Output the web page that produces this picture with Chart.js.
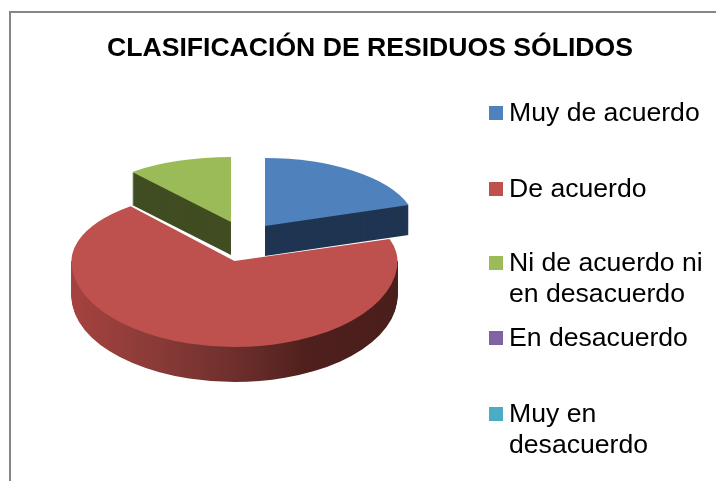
<!DOCTYPE html>
<html lang="es">
<head>
<meta charset="utf-8">
<title>Clasificación de residuos sólidos</title>
<script src="https://cdn.jsdelivr.net/npm/chart.js@4"></script>
<style>
  html, body { margin: 0; padding: 0; background: #fff; overflow: hidden; }
  #stage { position: relative; width: 716px; height: 481px; overflow: hidden; }
  #frame { position: absolute; left: 9px; top: 11px; width: 720px; height: 500px; border: 2px solid #868686; box-sizing: border-box; }
  canvas { position: absolute; left: 0; top: 0; }
  #legend { position: absolute; left: 0; top: 0; margin: 0; padding: 0; list-style: none; font: 26.6px/31px "Liberation Sans", Arial, sans-serif; color: #000; }
  #legend li { position: absolute; left: 489px; width: 220px; white-space: pre; padding-left: 20px; box-sizing: border-box; }
  #legend i { position: absolute; left: 0; top: 9px; width: 14px; height: 14px; }
</style>
</head>
<body>
<div id="stage">
  <div id="frame"></div>
  <canvas id="chart" width="716" height="481"></canvas>
  <ul id="legend"></ul>
</div>
<script>
const chartTitle = 'CLASIFICACIÓN DE RESIDUOS SÓLIDOS';
const categories = ['Muy de acuerdo', 'De acuerdo', 'Ni de acuerdo ni\nen desacuerdo', 'En desacuerdo', 'Muy en\ndesacuerdo'];
const shares = [20, 69, 11, 0, 0];
const topColors = ['#4F81BD', '#BE504D', '#9BBB59', '#8064A2', '#4BACC6'];
const legendTops = [97, 173, 247, 322, 398];

// Look of the tilted, exploded slices (screen centre and radii for each slice).
const sliceLook = {
  0: { cx: 265, cy: 226, rx: 151, ry: 68, depth: 30, wall: '#1F3552' },
  2: { cx: 231, cy: 222, rx: 155, ry: 65, depth: 33, wall: '#414D22' }
};
const redLook = { cx: 234.5, cy: 261, rx: 163, ryBack: 71, ryFront: 86, depth: 35 };

const tiltPlugin = {
  id: 'tilt',
  beforeDatasetsDraw(chart) {
    const ctx = chart.ctx;
    const arcs = chart.getDatasetMeta(0).data;

    function place(el, cx, cy, rx, ry) {
      ctx.translate(cx, cy);
      ctx.scale(rx / el.outerRadius, ry / el.outerRadius);
      ctx.translate(-el.x, -el.y);
    }
    function paint(el, fill) {
      const saved = el.options;
      el.options = Object.assign({}, saved, { backgroundColor: fill });
      el.draw(ctx);
      el.options = saved;
    }

    // back slices: walls, then faces
    [0, 2].forEach((i) => {
      const el = arcs[i], s = sliceLook[i];
      for (let d = s.depth; d >= 1; d--) {
        ctx.save(); place(el, s.cx, s.cy + d, s.rx, s.ry); paint(el, s.wall); ctx.restore();
      }
      ctx.save(); place(el, s.cx, s.cy, s.rx, s.ry); paint(el, topColors[i]); ctx.restore();
    });

    // large slice
    const el = arcs[1], r = redLook;
    const X = (sx) => el.x + (sx - r.cx) * el.outerRadius / r.rx;
    const wallFill = ctx.createLinearGradient(X(72), 0, X(397), 0);
    wallFill.addColorStop(0, '#A5423F');
    wallFill.addColorStop(0.25, '#8A3B38');
    wallFill.addColorStop(0.5, '#6E2F2C');
    wallFill.addColorStop(0.72, '#4F201D');
    wallFill.addColorStop(1, '#4A1E1B');

    // thin white seam against the green wall
    ctx.save();
    ctx.beginPath(); ctx.rect(0, 0, r.cx, r.cy); ctx.clip();
    place(el, r.cx, r.cy - 1.5, r.rx, r.ryBack); paint(el, '#FFFFFF');
    ctx.restore();

    ctx.save();
    ctx.beginPath(); ctx.rect(0, r.cy, 716, 300); ctx.clip();
    for (let d = r.depth; d >= 1; d--) {
      ctx.save(); place(el, r.cx, r.cy + d, r.rx, r.ryFront); paint(el, wallFill); ctx.restore();
    }
    ctx.restore();

    ctx.save();
    ctx.beginPath(); ctx.rect(0, 0, 716, r.cy + 0.5); ctx.clip();
    place(el, r.cx, r.cy, r.rx, r.ryBack); paint(el, topColors[1]);
    ctx.restore();

    ctx.save();
    ctx.beginPath(); ctx.rect(0, r.cy, 716, 300); ctx.clip();
    place(el, r.cx, r.cy, r.rx, r.ryFront); paint(el, topColors[1]);
    ctx.restore();
    return false;
  }
};

new Chart(document.getElementById('chart'), {
  type: 'pie',
  data: {
    labels: categories.map((c) => c.replace('\n', ' ')),
    datasets: [{ data: shares, backgroundColor: topColors, borderWidth: 0 }]
  },
  options: {
    responsive: false,
    animation: false,
    layout: { padding: { left: 24, top: 33, right: 0, bottom: 40 } },
    plugins: {
      legend: { display: false },
      tooltip: { enabled: false },
      title: {
        display: true,
        text: chartTitle,
        color: '#000',
        font: { family: '"Liberation Sans", Arial, sans-serif', size: 26.6, weight: 'bold' },
        padding: 0
      }
    }
  },
  plugins: [tiltPlugin]
});

const legendEl = document.getElementById('legend');
categories.forEach((name, i) => {
  const li = document.createElement('li');
  li.style.top = legendTops[i] + 'px';
  const box = document.createElement('i');
  box.style.background = topColors[i];
  li.appendChild(box);
  li.appendChild(document.createTextNode(name));
  legendEl.appendChild(li);
});
</script>
</body>
</html>
